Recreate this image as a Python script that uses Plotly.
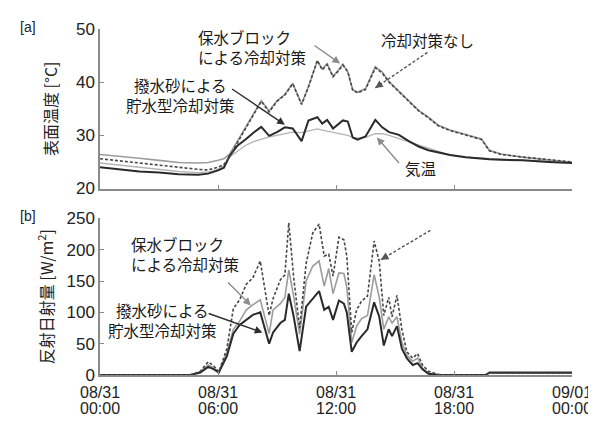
import plotly.graph_objects as go

# ---------------- data ----------------
# [a] surface temperature (hours from 08/31 00:00)
hours_top = [0, 1, 2, 3, 4, 5, 5.5, 6.0, 6.3, 6.6, 7.0, 7.4, 7.8, 8.2, 8.6, 9.0, 9.4, 9.8,
             10.25, 10.6, 11.05, 11.3, 11.55, 11.85, 12.1, 12.35, 12.6, 12.85, 13.1, 13.5,
             14.0, 14.35, 14.7, 15.2, 15.7, 16.2, 16.7, 17.2, 17.8, 18.6, 19.4, 19.8,
             20.4, 21.5, 22.8, 24.0]
temp_none = [25.6, 25.2, 24.8, 24.3, 23.9, 23.6, 23.5, 24.0, 24.5, 26.0, 28.7, 31.3, 33.8, 36.4,
             34.4, 36.4, 37.6, 39.7, 35.8, 39.1, 44.1, 42.3, 43.3, 41.0, 42.0, 43.2, 42.0, 38.5,
             38.0, 38.6, 42.7, 41.7, 40.0, 38.2, 36.5, 34.6, 33.3, 31.8, 30.9, 30.0, 29.2, 27.1,
             26.4, 25.9, 25.5, 25.0]
temp_block = [26.4, 26.1, 25.7, 25.3, 24.9, 24.8, 24.9, 25.3, 25.6, 26.5, 28.9, 31.5, 34.0, 36.5,
              34.6, 36.5, 37.7, 39.8, 35.9, 39.2, 44.0, 42.5, 43.5, 41.1, 42.2, 43.4, 41.9, 38.6,
              38.1, 38.8, 42.9, 41.9, 40.1, 38.3, 36.6, 34.7, 33.4, 31.9, 31.0, 30.1, 29.3, 27.2,
              26.5, 25.9, 25.4, 24.9]
temp_sand = [24.0, 23.6, 23.2, 23.0, 22.7, 22.6, 22.8, 23.4, 23.9, 26.2, 28.1, 29.2, 30.5, 31.6,
             29.9, 30.6, 31.5, 31.3, 28.9, 32.8, 33.4, 32.2, 32.9, 31.3, 32.0, 32.8, 32.6, 29.6,
             29.2, 29.8, 32.9, 31.5, 30.6, 30.1, 28.9, 27.9, 27.2, 26.8, 26.3, 25.9, 25.6, 25.5,
             25.4, 25.3, 25.0, 24.8]
temp_air = [24.8, 24.4, 24.0, 23.6, 23.2, 23.0, 23.1, 23.6, 24.3, 26.0, 27.0, 28.1, 28.8, 29.3,
            29.7, 30.0, 30.3, 30.6, 30.5, 30.8, 31.2, 31.0, 30.8, 30.5, 30.4, 30.2, 30.0, 29.6,
            29.5, 29.6, 30.3, 30.3, 30.0, 29.4, 28.8, 28.2, 27.5, 26.9, 26.3, 25.9, 25.7, 25.6,
            25.5, 25.3, 25.2, 25.0]

# [b] reflected solar radiation
hours_bot = [0, 4.6, 5.1, 5.5, 5.8, 6.04, 6.45, 6.78, 7.1, 7.44, 7.77, 8.15, 8.6, 8.8, 9.17,
             9.4, 9.6, 9.85, 10.15, 10.48, 10.82, 11.14, 11.4, 11.63, 11.85, 12.15, 12.4, 12.55,
             12.8, 13.05, 13.3, 13.6, 13.94, 14.2, 14.43, 14.68, 14.85, 15.1, 15.35, 15.6, 15.9,
             16.15, 16.4, 16.7, 17.2, 17.6, 19.6, 19.8, 24]
rad_none = [0, 0, 6, 21, 14, 5, 42, 106, 120, 145, 155, 182, 95, 122, 152, 160, 243, 155, 75, 178,
            227, 241, 190, 193, 158, 220, 216, 190, 68, 104, 118, 126, 214, 181, 95, 124, 93, 127,
            73, 37, 27, 34, 16, 6, 1, 0, 0, 3, 3]
rad_block = [0, 0, 5, 16, 11, 5, 35, 73, 86, 104, 112, 120, 66, 104, 114, 124, 168, 125, 65, 150,
             174, 182, 142, 170, 130, 163, 162, 140, 52, 78, 90, 95, 160, 124, 73, 93, 83, 93,
             52, 32, 22, 27, 11, 3, 0, 0, 0, 3, 3]
rad_sand = [0, 0, 4, 13, 9, 4, 30, 66, 80, 88, 96, 100, 50, 68, 83, 88, 130, 93, 38, 109,
            122, 134, 104, 109, 88, 119, 114, 100, 37, 52, 62, 73, 116, 93, 47, 73, 62, 78,
            42, 27, 16, 19, 9, 2, 0, 0, 0, 4, 4]

tick_hours = [0, 6, 12, 18, 24]
tick_dates = ["08/31", "08/31", "08/31", "08/31", "09/01"]
tick_times = ["00:00", "06:00", "12:00", "18:00", "00:00"]

# ---------------- styles ----------------
C_NONE = "#474747"
C_BLOCK = "#9c9c9c"
C_SAND = "#2a2a2a"
C_AIR = "#b4b4b4"
AX = "#8a8a8a"
JP = "Noto Sans CJK JP, Noto Sans CJK SC, sans-serif"
NUM = "Liberation Sans, Arial, sans-serif"

fig = go.Figure()

def add(x, y, color, width, dash, xa, ya, name):
    fig.add_trace(go.Scatter(x=x, y=y, mode="lines", name=name, xaxis=xa, yaxis=ya,
                             line=dict(color=color, width=width, dash=dash), showlegend=False))

add(hours_top, temp_block, C_BLOCK, 1.6, "solid", "x", "y", "保水ブロック")
add(hours_top, temp_air, C_AIR, 1.3, "solid", "x", "y", "気温")
add(hours_top, temp_sand, C_SAND, 2.0, "solid", "x", "y", "撥水砂")
add(hours_top, temp_none, C_NONE, 1.6, "3px,2px", "x", "y", "冷却対策なし")

add(hours_bot, rad_block, C_BLOCK, 1.6, "solid", "x2", "y2", "保水ブロック")
add(hours_bot, rad_sand, C_SAND, 2.0, "solid", "x2", "y2", "撥水砂")
add(hours_bot, rad_none, C_NONE, 1.6, "3px,2px", "x2", "y2", "冷却対策なし")

TICKFONT = dict(family=NUM, size=17, color="#222")
XTICKFONT = dict(family=NUM, size=16, color="#222")
xcommon = dict(range=[0, 24], showgrid=False, zeroline=False, showline=True, linecolor=AX,
               linewidth=1.5, ticks="inside", ticklen=4, tickcolor=AX, tickvals=tick_hours)
ycommon = dict(showgrid=False, zeroline=False, showline=True, linecolor=AX, linewidth=1.5,
               ticks="inside", ticklen=4, tickcolor=AX, tickfont=TICKFONT)

fig.update_layout(
    width=596, height=421, paper_bgcolor="white", plot_bgcolor="white",
    margin=dict(l=92, r=22, t=19, b=44),
    xaxis=dict(xcommon, anchor="y", showticklabels=False),
    yaxis=dict(ycommon, domain=[0.539, 1], range=[20, 50], tickvals=[20, 30, 40, 50],
               title=dict(text="表面温度 [°C]", font=dict(family=JP, size=16, color="#222"),
                          standoff=14)),
    xaxis2=dict(xcommon, anchor="y2", ticktext=tick_dates, tickfont=XTICKFONT,
                ticklabelstandoff=2, ticklabeloverflow="allow"),
    xaxis3=dict(range=[0, 24], overlaying="x2", anchor="y2", side="bottom", showgrid=False,
                zeroline=False, showline=False, ticks="outside", ticklen=19,
                tickcolor="rgba(0,0,0,0)", tickvals=tick_hours, ticktext=tick_times,
                tickfont=XTICKFONT, ticklabeloverflow="allow"),
    yaxis2=dict(ycommon, domain=[0, 0.4525], range=[0, 250], tickvals=[0, 50, 100, 150, 200, 250],
                title=dict(text="反射日射量 [W/m<sup>2</sup>]",
                           font=dict(family=JP, size=16, color="#222"), standoff=9)),
)

# invisible trace so xaxis3 is rendered
fig.add_trace(go.Scatter(x=[0, 24], y=[0, 0], xaxis="x3", yaxis="y2", mode="lines",
                         line=dict(width=0), showlegend=False, hoverinfo="skip"))

ann = []
def text(x, y, t, xa, ya, xanchor="center", align="center"):
    ann.append(dict(x=x, y=y, xref=xa, yref=ya, text=t, showarrow=False, xanchor=xanchor,
                    yanchor="middle", align=align, font=dict(family=JP, size=15.5, color="#1a1a1a")))

def arrow(tx, ty, hx, hy, xa, ya, color, dashed=False):
    if dashed:
        fig.add_shape(type="line", x0=tx, y0=ty, x1=hx, y1=hy, xref=xa, yref=ya,
                      line=dict(color=color, width=1.4, dash="3px,2px"))
        sx = hx + (tx - hx) * 0.12
        sy = hy + (ty - hy) * 0.12
        ann.append(dict(x=hx, y=hy, ax=sx, ay=sy, xref=xa, yref=ya, axref=xa, ayref=ya,
                        showarrow=True, arrowhead=2, arrowsize=1.1, arrowwidth=1.4,
                        arrowcolor=color, text=""))
    else:
        ann.append(dict(x=hx, y=hy, ax=tx, ay=ty, xref=xa, yref=ya, axref=xa, ayref=ya,
                        showarrow=True, arrowhead=2, arrowsize=1.1, arrowwidth=1.4,
                        arrowcolor=color, text=""))

# [a]
text(4.9, 46.6, "保水ブロック<br>による冷却対策", "x", "y", "left", "left")
arrow(10.83, 47.1, 12.21, 43.5, "x", "y", "#8c8c8c")
text(16.65, 48.0, "冷却対策なし", "x", "y")
arrow(16.65, 45.6, 13.99, 38.9, "x", "y", "#555555", dashed=True)
text(4.1, 37.5, "撥水砂による<br>貯水型冷却対策", "x", "y")
arrow(6.64, 38.9, 9.4, 32.0, "x", "y", "#2e2e2e")
text(16.3, 23.8, "気温", "x", "y")
arrow(15.27, 24.5, 14.08, 29.6, "x", "y", "#8c8c8c")

# [b]
text(16.9, 258, "冷却対策なし", "x2", "y2")
arrow(16.8, 231, 14.28, 184, "x2", "y2", "#555555", dashed=True)
text(1.45, 193, "保水ブロック<br>による冷却対策", "x2", "y2", "left", "left")
arrow(6.44, 150, 7.67, 111, "x2", "y2", "#8c8c8c")
text(3.2, 88, "撥水砂による<br>貯水型冷却対策", "x2", "y2")
arrow(5.45, 99, 8.26, 68, "x2", "y2", "#2e2e2e")

# panel labels
for lab, ypix in (("[a]", 17), ("[b]", 213)):
    ann.append(dict(x=-84 / 482, y=(377 - ypix) / 358, xref="paper", yref="paper", text=lab,
                    showarrow=False, xanchor="left", yanchor="middle",
                    font=dict(family=NUM, size=14, color="#222")))

fig.update_layout(annotations=ann)
fig.write_html("out.html")
